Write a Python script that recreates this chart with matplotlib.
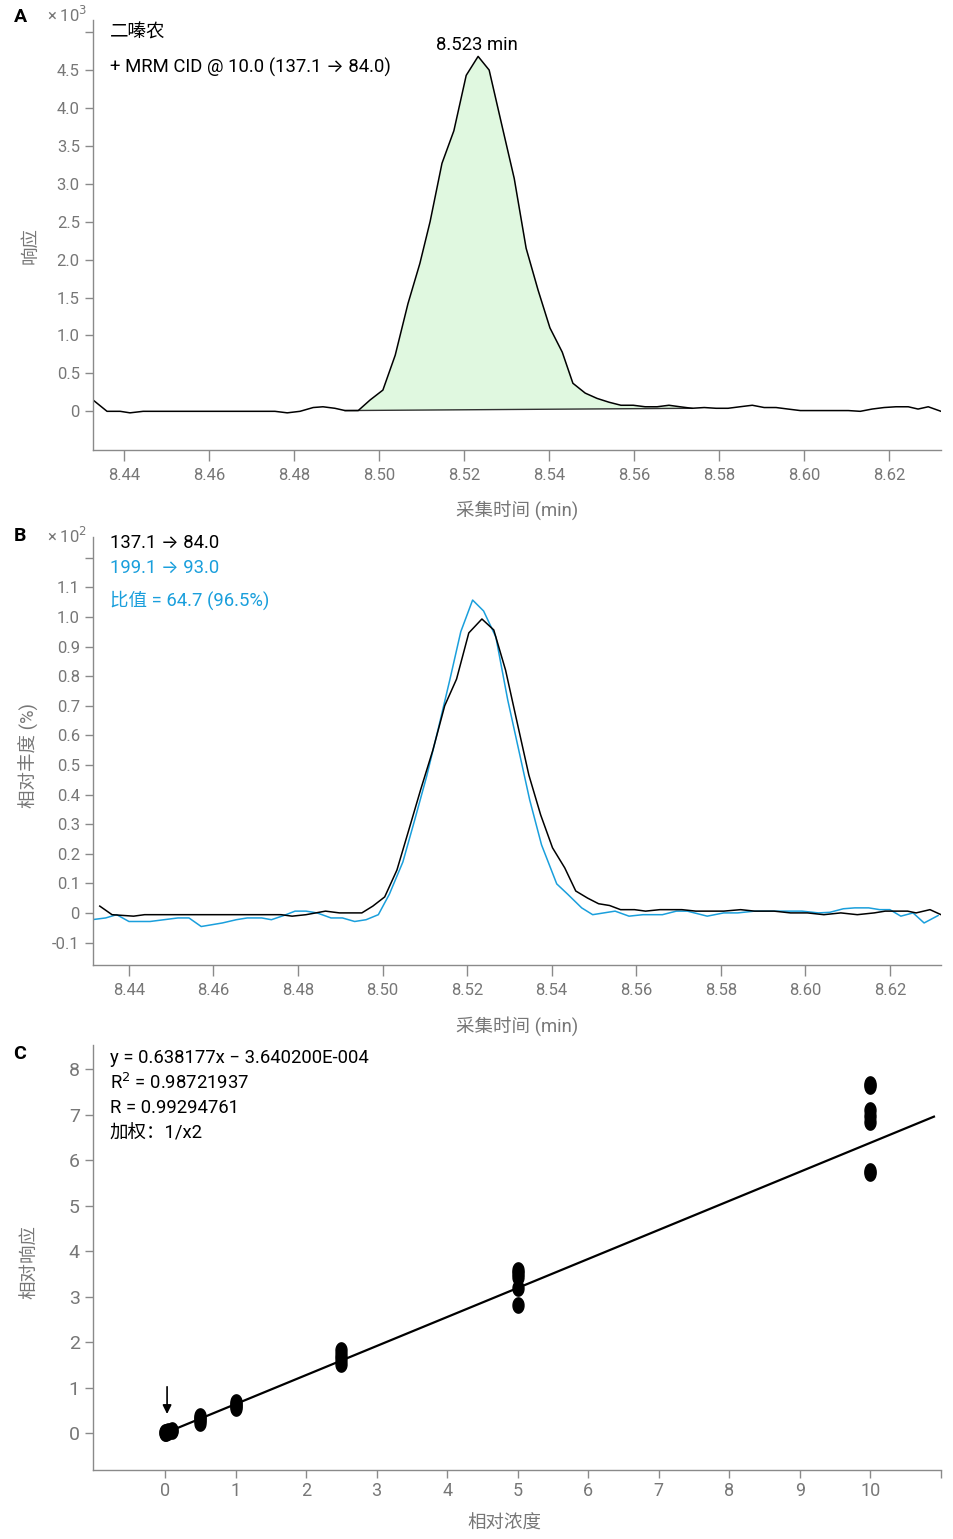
import numpy as np
import matplotlib
matplotlib.use("Agg")
import matplotlib.pyplot as plt
from matplotlib.path import Path

plt.rcParams['font.family'] = ['Roboto', 'Inter', 'Noto Sans CJK SC', 'DejaVu Sans']
plt.rcParams['axes.unicode_minus'] = False

# ---------------- Panel A data (time, response x10^3) ----------------
tA = [8.4327, 8.4360, 8.4391, 8.4414, 8.4445, 8.4473, 8.4501, 8.4529, 8.4558, 8.4586,
      8.4614, 8.4642, 8.4671, 8.4699, 8.4727, 8.4755, 8.4784, 8.4814, 8.4845, 8.4868,
      8.4896, 8.4920, 8.4951, 8.4979, 8.5009, 8.5038, 8.5068, 8.5096, 8.5120, 8.5148,
      8.5176, 8.5205, 8.5233, 8.5259, 8.5289, 8.5318, 8.5346, 8.5374, 8.5402, 8.5431,
      8.5456, 8.5485, 8.5513, 8.5541, 8.5569, 8.5598, 8.5626, 8.5654, 8.5682, 8.5708,
      8.5736, 8.5765, 8.5793, 8.5821, 8.5849, 8.5878, 8.5906, 8.5934, 8.5962, 8.5991,
      8.6019, 8.6047, 8.6075, 8.6104, 8.6132, 8.6160, 8.6188, 8.6216, 8.6245, 8.6268,
      8.6292, 8.6322]
yA = [0.15, 0.00, 0.00, -0.02, 0.00, 0.00, 0.00, 0.00, 0.00, 0.00,
      0.00, 0.00, 0.00, 0.00, 0.00, 0.00, -0.02, 0.00, 0.05, 0.06,
      0.04, 0.01, 0.01, 0.15, 0.28, 0.74, 1.42, 1.95, 2.50, 3.27,
      3.70, 4.43, 4.68, 4.50, 3.77, 3.07, 2.15, 1.60, 1.10, 0.78,
      0.37, 0.24, 0.17, 0.12, 0.08, 0.08, 0.06, 0.06, 0.08, 0.06,
      0.04, 0.05, 0.04, 0.04, 0.06, 0.08, 0.05, 0.05, 0.03, 0.01,
      0.01, 0.01, 0.01, 0.01, 0.00, 0.03, 0.05, 0.06, 0.06, 0.03,
      0.06, 0.00]
peak_start = (8.4920, 0.01)
peak_end = (8.5736, 0.04)
peak_rt = 8.523

# ---------------- Panel B data (relative abundance x10^2) ----------------
tB_q = [8.4331, 8.4360, 8.4411, 8.4437, 8.4480, 8.4530, 8.4580, 8.4630, 8.4680, 8.4730,
        8.4760, 8.4786, 8.4819, 8.4865, 8.4898, 8.4951, 8.4977, 8.5005, 8.5034, 8.5062,
        8.5090, 8.5119, 8.5147, 8.5175, 8.5204, 8.5235, 8.5263, 8.5291, 8.5317, 8.5346,
        8.5374, 8.5402, 8.5431, 8.5457, 8.5485, 8.5511, 8.5537, 8.5563, 8.5596, 8.5622,
        8.5656, 8.5708, 8.5741, 8.5807, 8.5847, 8.5880, 8.5926, 8.5965, 8.6005, 8.6044,
        8.6084, 8.6123, 8.6163, 8.6189, 8.6242, 8.6262, 8.6295, 8.6321]
yB_q = [0.023, -0.006, -0.011, -0.006, -0.006, -0.006, -0.006, -0.006, -0.006, -0.006,
        -0.006, -0.011, -0.006, 0.006, 0.000, 0.000, 0.023, 0.054, 0.145, 0.280,
        0.416, 0.550, 0.700, 0.790, 0.946, 0.993, 0.956, 0.820, 0.652, 0.466,
        0.331, 0.220, 0.152, 0.074, 0.050, 0.031, 0.025, 0.011, 0.011, 0.006,
        0.011, 0.011, 0.006, 0.006, 0.011, 0.006, 0.006, 0.000, 0.000, -0.006,
        0.000, -0.006, 0.000, 0.006, 0.006, 0.000, 0.011, -0.006]
tB_r = [8.4312, 8.4345, 8.4371, 8.4400, 8.4450, 8.4516, 8.4542, 8.4571, 8.4621, 8.4654,
        8.4680, 8.4714, 8.4737, 8.4766, 8.4793, 8.4819, 8.4845, 8.4878, 8.4905, 8.4934,
        8.4961, 8.4990, 8.5016, 8.5048, 8.5076, 8.5104, 8.5131, 8.5159, 8.5185, 8.5213,
        8.5239, 8.5268, 8.5296, 8.5322, 8.5348, 8.5376, 8.5412, 8.5438, 8.5471, 8.5497,
        8.5550, 8.5583, 8.5616, 8.5662, 8.5695, 8.5721, 8.5768, 8.5807, 8.5840, 8.5880,
        8.5939, 8.5992, 8.6031, 8.6058, 8.6090, 8.6117, 8.6150, 8.6176, 8.6200, 8.6226,
        8.6255, 8.6281, 8.6314]
yB_r = [-0.023, -0.017, -0.006, -0.029, -0.029, -0.017, -0.017, -0.046, -0.034, -0.023,
        -0.017, -0.017, -0.023, -0.009, 0.006, 0.006, 0.000, -0.017, -0.017, -0.029,
        -0.023, -0.006, 0.063, 0.172, 0.314, 0.460, 0.618, 0.787, 0.950, 1.057,
        1.020, 0.932, 0.720, 0.551, 0.382, 0.230, 0.098, 0.063, 0.017, -0.006,
        0.006, -0.011, -0.006, -0.006, 0.006, 0.006, -0.011, 0.000, 0.000, 0.006,
        0.006, 0.006, 0.000, 0.002, 0.014, 0.017, 0.017, 0.011, 0.011, -0.011,
        0.000, -0.034, -0.009]

# ---------------- Panel C data (calibration) ----------------
conc = [0.0, 0.0, 0.02, 0.02, 0.05, 0.05, 0.1, 0.1,
        0.5, 0.5, 0.5, 0.5,
        1.0, 1.0, 1.0, 1.0,
        2.5, 2.5, 2.5, 2.5,
        5.0, 5.0, 5.0, 5.0, 5.0,
        10.0, 10.0, 10.0, 10.0, 10.0, 10.0, 10.0]
resp = [0.00, 0.02, 0.00, 0.03, 0.02, 0.04, 0.05, 0.07,
        0.22, 0.28, 0.33, 0.37,
        0.56, 0.60, 0.64, 0.69,
        1.52, 1.62, 1.72, 1.83,
        2.81, 3.20, 3.43, 3.52, 3.58,
        5.71, 5.76, 6.84, 6.98, 7.10, 7.62, 7.68]
slope = 0.638177
intercept = -3.640200e-4
fit_range = (0.0, 10.9)

# ---------------- styling helpers ----------------
GRAY = '#8a8a8a'
LBL = '#777777'
BLUE = '#1a9fdc'
GREEN = '#e0f8e0'
FS = 12
TFS = 13.3


def style(ax):
    for s in ('top', 'right'):
        ax.spines[s].set_visible(False)
    for s in ('left', 'bottom'):
        ax.spines[s].set_color(GRAY)
        ax.spines[s].set_linewidth(1.0)
    ax.tick_params(colors=GRAY, labelcolor=LBL, labelsize=FS, length=6, width=1)
    ax.tick_params(axis='x', length=8, pad=5)


def fmt(v):
    return '0' if abs(v) < 1e-9 else '%.1f' % v


W, H = 954, 1539
fig = plt.figure(figsize=(W / 100, H / 100), dpi=100)


def ax_at(x0, y0, x1, y1):
    return fig.add_axes([x0 / W, 1 - y1 / H, (x1 - x0) / W, (y1 - y0) / H])


def ty(ax, ypix, y0, y1):
    # axes-fraction y of a pixel row inside an axes spanning rows y0..y1
    return (y1 - ypix) / (y1 - y0)


YLX = (39 - 93) / 848

# ---------------- Panel A ----------------
axA = ax_at(93, 20, 941, 450)
style(axA)
tA_arr = np.array(tA)
yA_arr = np.array(yA)
mask = (tA_arr >= peak_start[0]) & (tA_arr <= peak_end[0])
base = np.interp(tA_arr[mask], [peak_start[0], peak_end[0]], [peak_start[1], peak_end[1]])
axA.fill_between(tA_arr[mask], base, yA_arr[mask], color=GREEN, lw=0)
axA.plot([peak_start[0], peak_end[0]], [peak_start[1], peak_end[1]], color='#333333', lw=1.0)
axA.plot(tA, yA, color='black', lw=1.1)
axA.set_xlim(8.4327, 8.6322)
axA.set_ylim(-0.51, 5.16)
xt = [8.44, 8.46, 8.48, 8.50, 8.52, 8.54, 8.56, 8.58, 8.60, 8.62]
axA.set_xticks(xt)
axA.set_xticklabels(['%.2f' % v for v in xt])
ytA = [0, 0.5, 1.0, 1.5, 2.0, 2.5, 3.0, 3.5, 4.0, 4.5, 5.0]
axA.set_yticks(ytA)
axA.set_yticklabels([fmt(v) for v in ytA[:-1]] + [''])
axA.set_xlabel('采集时间 (min)', color=LBL, fontsize=TFS, labelpad=12)
axA.set_ylabel('响应', color=LBL, fontsize=TFS)
axA.yaxis.set_label_coords(YLX, ty(axA, 245, 20, 450))
axA.text(0.0195, ty(axA, 33, 20, 450), '二嗪农', transform=axA.transAxes, fontsize=TFS, va='center')
axA.text(0.0195, ty(axA, 67, 20, 450), '+ MRM CID @ 10.0 (137.1 \u2192 84.0)',
         transform=axA.transAxes, fontsize=TFS, va='center')
axA.annotate('%.3f min' % peak_rt, xy=(peak_rt, max(yA)), xytext=(0, 2),
             textcoords='offset points', ha='center', va='bottom', fontsize=TFS)
fig.text(20 / W, 1 - 17 / H, 'A', fontsize=14, fontweight='bold', va='center', ha='center')
fig.text(67 / W, 1 - 15 / H, '× 10$^3$', fontsize=FS, color=LBL, va='center', ha='center')

# ---------------- Panel B ----------------
axB = ax_at(93, 537, 941, 965)
style(axB)
axB.plot(tB_r, yB_r, color=BLUE, lw=1.1)
axB.plot(tB_q, yB_q, color='black', lw=1.1)
axB.set_xlim(8.4315, 8.6321)
axB.set_ylim(-0.176, 1.27)
axB.set_xticks(xt)
axB.set_xticklabels(['%.2f' % v for v in xt])
ytB = [-0.1, 0, 0.1, 0.2, 0.3, 0.4, 0.5, 0.6, 0.7, 0.8, 0.9, 1.0, 1.1, 1.2]
axB.set_yticks(ytB)
axB.set_yticklabels([fmt(v) for v in ytB[:-1]] + [''])
axB.set_xlabel('采集时间 (min)', color=LBL, fontsize=TFS, labelpad=13)
axB.set_ylabel('相对丰度 (%)', color=LBL, fontsize=TFS)
axB.yaxis.set_label_coords(YLX, ty(axB, 755, 537, 965))
axB.text(0.0195, ty(axB, 543, 537, 965), '137.1 \u2192 84.0', transform=axB.transAxes,
         fontsize=TFS, va='center')
axB.text(0.0195, ty(axB, 568, 537, 965), '199.1 \u2192 93.0', transform=axB.transAxes,
         fontsize=TFS, va='center', color=BLUE)
axB.text(0.0195, ty(axB, 600, 537, 965), '比值 = 64.7 (96.5%)', transform=axB.transAxes,
         fontsize=TFS, va='center', color=BLUE)
fig.text(20 / W, 1 - 536 / H, 'B', fontsize=14, fontweight='bold', va='center', ha='center')
fig.text(67 / W, 1 - 536 / H, '× 10$^2$', fontsize=FS, color=LBL, va='center', ha='center')

# ---------------- Panel C ----------------
axC = ax_at(93, 1045, 941, 1470)
style(axC)
th = np.linspace(0, 2 * np.pi, 40)
ellipse = Path(np.c_[0.72 * np.cos(th), np.sin(th)])
xf = np.array(fit_range)
axC.plot(xf, slope * xf + intercept, color='black', lw=1.6)
axC.plot(conc, resp, linestyle='none', marker=ellipse, color='black', ms=11, mec='black')
axC.annotate('', xy=(0.03, 0.36), xytext=(0.03, 1.08),
             arrowprops=dict(arrowstyle='-|>', color='black', lw=1.2, mutation_scale=13))
axC.set_xlim(-1.02, 11.0)
axC.set_ylim(-0.81, 8.53)
xtC = list(range(0, 12))
axC.set_xticks(xtC)
axC.set_xticklabels([str(v) for v in xtC[:-1]] + [''])
ytC = list(range(0, 9))
axC.set_yticks(ytC)
axC.set_yticklabels([str(v) for v in ytC])
axC.tick_params(axis='y', labelsize=FS + 2)
axC.tick_params(axis='x', labelsize=FS + 1, length=6, pad=3)
axC.set_xlabel('相对浓度', color=LBL, fontsize=TFS)
axC.xaxis.set_label_coords((504 - 93) / 848, ty(axC, 1515, 1045, 1470))
axC.set_ylabel('相对响应', color=LBL, fontsize=TFS)
axC.yaxis.set_label_coords(YLX, ty(axC, 1262, 1045, 1470))
axC.text(0.0195, ty(axC, 1058, 1045, 1470), 'y = 0.638177x \u2212 3.640200E-004',
         transform=axC.transAxes, fontsize=TFS, va='center')
axC.text(0.0195, ty(axC, 1083, 1045, 1470), 'R$^2$ = 0.98721937', transform=axC.transAxes,
         fontsize=TFS, va='center')
axC.text(0.0195, ty(axC, 1108, 1045, 1470), 'R = 0.99294761', transform=axC.transAxes,
         fontsize=TFS, va='center')
axC.text(0.0195, ty(axC, 1134, 1045, 1470), '加权：1/x2', transform=axC.transAxes,
         fontsize=TFS, va='center')
fig.text(20 / W, 1 - 1054 / H, 'C', fontsize=14, fontweight='bold', va='center', ha='center')

fig.savefig('out.png', dpi=100)
